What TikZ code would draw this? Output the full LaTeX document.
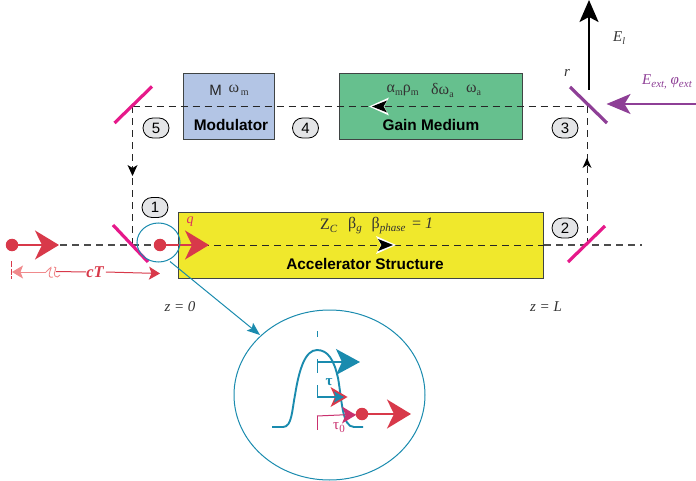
\documentclass[tikz,border=0pt]{standalone}
\usepackage{fontspec}
\setmainfont{Liberation Serif}
\setsansfont{Liberation Sans}
\usetikzlibrary{arrows.meta,shapes.misc,shapes.geometric}
\definecolor{yel}{HTML}{F0E82C}
\definecolor{grn}{HTML}{66C08E}
\definecolor{blu}{HTML}{B3C5E5}
\definecolor{pnk}{HTML}{E6198A}
\definecolor{prp}{HTML}{8E3F96}
\definecolor{rd}{HTML}{D8394A}
\definecolor{lrd}{HTML}{F08A8C}
\definecolor{tl}{HTML}{1A8BAE}
\definecolor{mgt}{HTML}{C9306E}
\definecolor{pill}{HTML}{E4E5E7}
\definecolor{bord}{HTML}{3F4444}
% tip x, tip y, angle, length, half width, notch, colour
\newcommand\headfill[7]{\fill[#7,shift={(#1,#2)},rotate=#3] (0,0) -- (-#4,#5) -- (-#4+#6,0) -- (-#4,-#5) -- cycle;}
\tikzset{
  box/.style={draw=bord,line width=1.2pt,anchor=north west,inner sep=0pt},
  beam/.style={line width=1pt,dash pattern=on 7pt off 5pt,draw=black!85},
  greybeam/.style={line width=1.1pt,dash pattern=on 7pt off 5pt,draw=black!70},
  badge/.style={draw=black,line width=.8pt,fill=pill,rounded rectangle,minimum width=26pt,minimum height=20pt,inner sep=0pt,font=\fontsize{15}{15}\sffamily},
  mirror/.style={line width=3.2pt,draw=pnk},
  boldlabel/.style={font=\fontsize{15.4}{16}\sffamily\bfseries,inner sep=0pt},
  symlabel/.style={font=\fontsize{16}{16}\selectfont,inner sep=0pt,text=black!80},
  itlabel/.style={font=\fontsize{15}{15}\itshape,inner sep=0pt,text=black!80},
  bighead/.style={-{Stealth[length=24pt,width=29pt,inset=7pt]}},
  dot/.style={circle,fill=rd,inner sep=0pt,minimum size=12.5pt}
}
\begin{document}
\begin{tikzpicture}[x=1pt,y=-1pt]
\useasboundingbox (0,0) rectangle (696,481);
% boxes
\node[box,fill=yel,minimum width=365pt,minimum height=66pt] (acc) at (178,212) {};
\node[box,fill=blu,minimum width=91pt,minimum height=66pt] (mod) at (183,73) {};
\node[box,fill=grn,minimum width=183pt,minimum height=66pt] (gain) at (338.5,73) {};
% coordinates
\coordinate (tl) at (132.5,106.5);
\coordinate (tr) at (587,106.5);
\coordinate (bl) at (132.5,245);
\coordinate (br) at (587,245);
\coordinate (start) at (60,245);
\coordinate (end) at (642,245);
% beams
\draw[greybeam] (start) -- (acc.west |- start);
\draw[beam] (acc.west |- start) -- (acc.east |- start);
\draw[greybeam] (acc.east |- start) -- (end);
\draw[beam] (tl) -- (tr);
\draw[beam] (tl) -- (bl);
\draw[beam] (br) -- (tr);
\headfill{132.5}{176}{-90}{11}{5}{3}{black}
\headfill{587}{158}{90}{10}{4.5}{3}{black}
% in-box arrowheads
\headfill{369}{106.5}{180}{20}{9}{5}{white}
\headfill{372}{106.5}{180}{15}{6}{3.5}{black}
\headfill{396}{245}{0}{20}{9}{5}{white}
\headfill{393}{245}{0}{15}{6}{3.5}{black}
% mirrors
\draw[mirror] (114.5,123) -- (152,86.5);
\draw[mirror] (113,225) -- (148,262);
\draw[mirror] (568,262) -- (605,226);
\draw[mirror,draw=prp] (570,87) -- (607,123);
% badges
\node[badge] (n1) at (155,207.5) {1};
\node[badge] (n2) at (565,228) {2};
\node[badge] (n3) at (565,128) {3};
\node[badge] (n4) at (305.5,128) {4};
\node[badge] (n5) at (156,128) {5};
% box text
\node[boldlabel] (lmod) at (231,124.5) {Modulator};
\node[boldlabel] (lgain) at (431,124.5) {Gain Medium};
\node[boldlabel] (lacc) at (365,264) {Accelerator Structure};
\node[font=\fontsize{15}{15}\sffamily,inner sep=0pt,text=black!85] (m1) at (215.5,90) {M};
\node[symlabel,anchor=west] (m2) at (228.5,90) {ω\raisebox{-3pt}{\fontsize{10}{10}\selectfont\,m}};
\node[symlabel,anchor=west] (g1) at (386.5,90) {α\raisebox{-3pt}{\fontsize{10}{10}\selectfont m}ρ\raisebox{-3pt}{\fontsize{10}{10}\selectfont m}};
\node[symlabel,anchor=west] (g2) at (431,90) {δω\raisebox{-3pt}{\fontsize{10}{10}\selectfont a}};
\node[symlabel,anchor=west] (g3) at (466,90) {ω\raisebox{-3pt}{\fontsize{10}{10}\selectfont a}};
\node[symlabel,anchor=west] (a1) at (320,226) {Z\raisebox{-3pt}{\fontsize{11}{11}\itshape C}};
\node[symlabel,anchor=west] (a2) at (348,226) {β\raisebox{-3pt}{\fontsize{11}{11}\itshape g}};
\node[symlabel,anchor=west] (a3) at (371.5,226) {β\raisebox{-3pt}{\fontsize{11}{11}\itshape phase}\, = \textit{1}};
% z labels
\node[itlabel] (z0) at (180,307) {z = 0};
\node[itlabel] (zL) at (546,307) {z = L};
\node[itlabel] (lr) at (567,73) {r};
\node[itlabel,anchor=west] (lE) at (613,38) {E\raisebox{-3pt}{\fontsize{10}{10}\selectfont\itshape l}};
\node[itlabel,anchor=east,text=prp] (lext) at (692,82) {E\raisebox{-2.5pt}{\fontsize{11}{10}\selectfont\itshape ext,} φ\raisebox{-2.5pt}{\fontsize{11}{10}\selectfont\itshape ext}};
% output arrows
\coordinate (Es) at (589,90);
\coordinate (Ee) at (589,0);
\draw[line width=2.2pt,black,-{Stealth[length=22pt,width=19pt,inset=5pt]}] (Es) -- (Ee);
\coordinate (Xs) at (696,104);
\coordinate (Xe) at (606.5,104);
\draw[line width=2.2pt,prp,-{Stealth[length=24pt,width=20pt,inset=6pt]}] (Xs) -- (Xe);
% charges
\node[dot] (q1) at (12,245) {};
\coordinate (q1t) at (59,245);
\draw[line width=2pt,rd,bighead] (q1) -- (q1t);
\node[dot] (q2) at (160,245) {};
\coordinate (q2t) at (209,245);
\draw[line width=2pt,rd,bighead] (q2) -- (q2t);
\node[font=\fontsize{14}{14}\itshape,text=rd!70!pnk,inner sep=0pt] (lq) at (190,222) {q};
% cT
\draw[line width=1.8pt,rd,dash pattern=on 6pt off 1.5pt] (11.5,261) -- (11.5,279);
\node[font=\fontsize{16.5}{16}\bfseries\itshape,text=rd,inner sep=0pt] (cT) at (95,272) {cT};
\coordinate (c1) at (12,272);
\coordinate (c2) at (160,273.5);
\draw[line width=1pt,lrd,{Stealth[length=11pt,width=13pt,inset=2.5pt]}-] (c1) -- (46,272);
\draw[line width=.9pt,lrd] (46,272) .. controls (52,266) and (52,266) .. (50,271) .. controls (48,277) and (50,278) .. (53,277);
\draw[line width=.9pt,lrd] (54,267) .. controls (59,266) and (52,274) .. (55,276) .. controls (57,278) and (58,277) .. (60,275);
\draw[line width=1pt,rd] (56,271.5) -- (cT.west);
\draw[line width=1pt,rd,-{Stealth[length=11pt,width=13pt,inset=2.5pt]}] (cT.east)++(2,0) -- (c2);
% lens
\node[draw=tl,line width=1pt,ellipse,minimum width=43pt,minimum height=39pt,inner sep=0pt] (lens) at (158.5,242.5) {};
\node[draw=tl,line width=1pt,ellipse,minimum width=191pt,minimum height=170pt,inner sep=0pt] (big) at (329.5,395) {};
\coordinate (ls) at (170,261.5);
\draw[tl,line width=1pt,-{Stealth[length=13pt,width=10pt,inset=2.5pt]}] (ls) -- (260,335);
% bell
\draw[tl,line width=1.9pt] (272,427) -- (283,427) .. controls (292,427) and (292,410) .. (295,395) .. controls (299,370) and (305,350) .. (317,350) .. controls (328,350) and (334,360) .. (338,378) .. controls (342,400) and (342,427) .. (354,427) -- (363,427);
\draw[tl,line width=1pt] (317,331) -- (317,337);
\draw[tl,line width=1pt] (317,359) -- (317,373);
\draw[tl,line width=1pt] (317,385) -- (317,398);
\draw[mgt,line width=1pt] (317,416) -- (317,430);
% pulses
\coordinate (p1) at (317,362);
\coordinate (p1t) at (360,362);
\draw[tl,line width=1.6pt,-{Stealth[length=24pt,width=26pt,inset=6pt]}] (p1) -- (p1t);
\coordinate (p2) at (317,397);
\coordinate (p2t) at (347.5,397);
\headfill{347.5}{397}{0}{17}{10}{4.5}{rd}
\draw[tl,line width=1.2pt,-{Stealth[length=10pt,width=11pt,inset=2pt]}] (p2) -- (344,397);
\node[font=\fontsize{15}{15}\bfseries,text=tl,inner sep=0pt] (ltau) at (329,382) {τ};
\node[font=\fontsize{15}{15}\selectfont,text=mgt,inner sep=0pt] (ltau0) at (339,428) {τ\raisebox{-3pt}{\fontsize{11}{11}\selectfont 0}};
\coordinate (p3) at (317,416);
\node[dot] (q3) at (362,414) {};
\draw[mgt,line width=1pt] (p3) -- (q3);
\headfill{356}{415}{0}{14}{8.5}{3.5}{mgt}
\coordinate (q3t) at (411,414);
\draw[line width=2pt,rd,bighead] (q3) -- (q3t);
\end{tikzpicture}
\end{document}
